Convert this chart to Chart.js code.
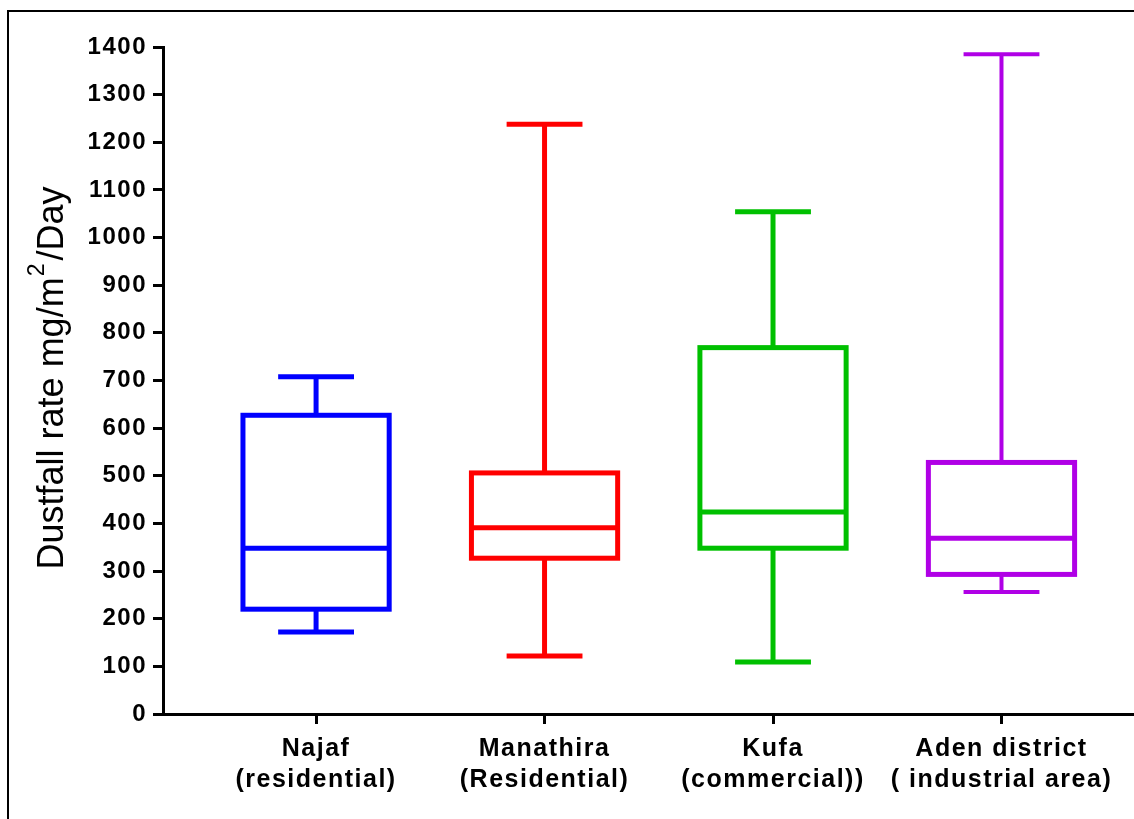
<!DOCTYPE html>
<html lang="en">
<head>
<meta charset="UTF-8">
<title>Dustfall rate</title>
<script src="https://cdn.jsdelivr.net/npm/chart.js"></script>
<style>
    html, body { margin: 0; padding: 0; background: #fff; }
    #frame {
        position: absolute; left: 7px; top: 10px;
        width: 1127px; height: 809px;
        border-left: 2px solid #000; border-top: 2px solid #000;
        box-sizing: border-box;
    }
    #box { position: absolute; left: 0; top: 0; width: 1134px; height: 819px; }
</style>
</head>
<body>
<div id="frame"></div>
<div id="box"><canvas id="dustChart"></canvas></div>

<script>
    // sites and box plot values (mg/m2/day)
    const sites = [
        ['Najaf', '(residential)'],
        ['Manathira', '(Residential)'],
        ['Kufa', '(commercial))'],
        ['Aden district', '( industrial area)']
    ];
    const whiskerMin    = [172, 122, 109, 256];
    const lowerQuartile = [220, 327, 348, 293];
    const medians       = [348, 391, 424, 369];
    const upperQuartile = [627, 506, 769, 528];
    const whiskerMax    = [708, 1238, 1054, 1385];
    const boxColors = ['#0000ff', '#ff0000', '#00c000', '#b000e6'];

    const yMin = 0, yMax = 1400, yStep = 100;
    const fontFamily = '"Liberation Sans", Arial, sans-serif';

    // draws boxes and whiskers through the chart scales
    const boxPlot = {
        id: 'boxPlot',
        afterDatasetsDraw(chart) {
            const { ctx, scales: { x, y } } = chart;
            ctx.save();
            ctx.lineCap = 'butt';
            ctx.lineJoin = 'miter';
            const line = (x1, y1, x2, y2) => {
                ctx.beginPath(); ctx.moveTo(x1, y1); ctx.lineTo(x2, y2); ctx.stroke();
            };
            sites.forEach((s, i) => {
                const cx = x.getPixelForValue(i);
                const bl = x.getPixelForValue(i - 0.32), br = x.getPixelForValue(i + 0.32);
                const cl = x.getPixelForValue(i - 0.166), cr = x.getPixelForValue(i + 0.166);
                const pMin = y.getPixelForValue(whiskerMin[i]);
                const pQ1 = y.getPixelForValue(lowerQuartile[i]);
                const pMed = y.getPixelForValue(medians[i]);
                const pQ3 = y.getPixelForValue(upperQuartile[i]);
                const pMax = y.getPixelForValue(whiskerMax[i]);
                ctx.strokeStyle = boxColors[i];
                ctx.lineWidth = i === 3 ? 4 : 5;
                line(cx, pMax, cx, pQ3);
                line(cx, pQ1, cx, pMin);
                line(cl, pMax, cr, pMax);
                line(cl, pMin, cr, pMin);
                ctx.lineWidth = 5;
                ctx.strokeRect(bl, pQ3, br - bl, pQ1 - pQ3);
                line(bl, pMed, br, pMed);
            });
            ctx.restore();
        }
    };

    // y title with a raised 2
    const yTitle = {
        id: 'yTitle',
        beforeDraw(chart) {
            chart.ctx.letterSpacing = '1.5px';
        },
        afterDraw(chart) {
            const { ctx, chartArea } = chart;
            const cy = (chartArea.top + chartArea.bottom) / 2 - 2;
            const big = '36px ' + fontFamily, small = '23px ' + fontFamily;
            const partA = 'Dustfall rate mg/m', partB = '2', partC = '/Day';
            ctx.save();
            ctx.letterSpacing = '0px';
            ctx.fillStyle = '#000';
            ctx.textBaseline = 'alphabetic';
            ctx.textAlign = 'left';
            ctx.font = big;
            const wA = ctx.measureText(partA).width, wC = ctx.measureText(partC).width;
            ctx.font = small;
            const wB = ctx.measureText(partB).width + 3;
            let pos = -(wA + wB + wC) / 2;
            ctx.translate(63, cy);
            ctx.rotate(-Math.PI / 2);
            ctx.font = big;
            ctx.fillText(partA, pos, 0);
            pos += wA + 1;
            ctx.font = small;
            ctx.fillText(partB, pos, -19);
            pos += wB;
            ctx.font = big;
            ctx.fillText(partC, pos, 0);
            ctx.restore();
        }
    };

    const ctx = document.getElementById('dustChart').getContext('2d');
    new Chart(ctx, {
        type: 'scatter',
        data: {
            datasets: [{
                label: 'Median',
                data: medians.map((m, i) => ({ x: i, y: m })),
                pointRadius: 0,
                showLine: false
            }]
        },
        options: {
            responsive: true,
            maintainAspectRatio: false,
            animation: false,
            layout: { padding: { top: 47, right: 0, bottom: 0, left: 0 } },
            plugins: { legend: { display: false }, tooltip: { enabled: false } },
            scales: {
                x: {
                    type: 'linear',
                    min: -0.67,
                    max: 3.58,
                    afterBuildTicks: s => { s.ticks = sites.map((_, i) => ({ value: i })); },
                    afterFit: s => { s.height = 105; },
                    ticks: {
                        callback: v => sites[v],
                        color: '#000',
                        font: { family: fontFamily, size: 25, weight: 'bold', lineHeight: 1.25 },
                        padding: 9,
                        maxRotation: 0,
                        autoSkip: false
                    },
                    grid: { drawOnChartArea: false, drawTicks: true, tickLength: 10, color: '#000', lineWidth: 3 },
                    border: { display: true, color: '#000', width: 3 }
                },
                y: {
                    min: yMin,
                    max: yMax,
                    afterFit: s => { s.width = 163; },
                    ticks: {
                        stepSize: yStep,
                        callback: v => String(v),
                        color: '#000',
                        font: { family: fontFamily, size: 24, weight: 'bold' },
                        padding: 6
                    },
                    grid: { drawOnChartArea: false, drawTicks: true, tickLength: 10, color: '#000', lineWidth: 3 },
                    border: { display: true, color: '#000', width: 3 }
                }
            }
        },
        plugins: [boxPlot, yTitle]
    });
</script>
</body>
</html>
